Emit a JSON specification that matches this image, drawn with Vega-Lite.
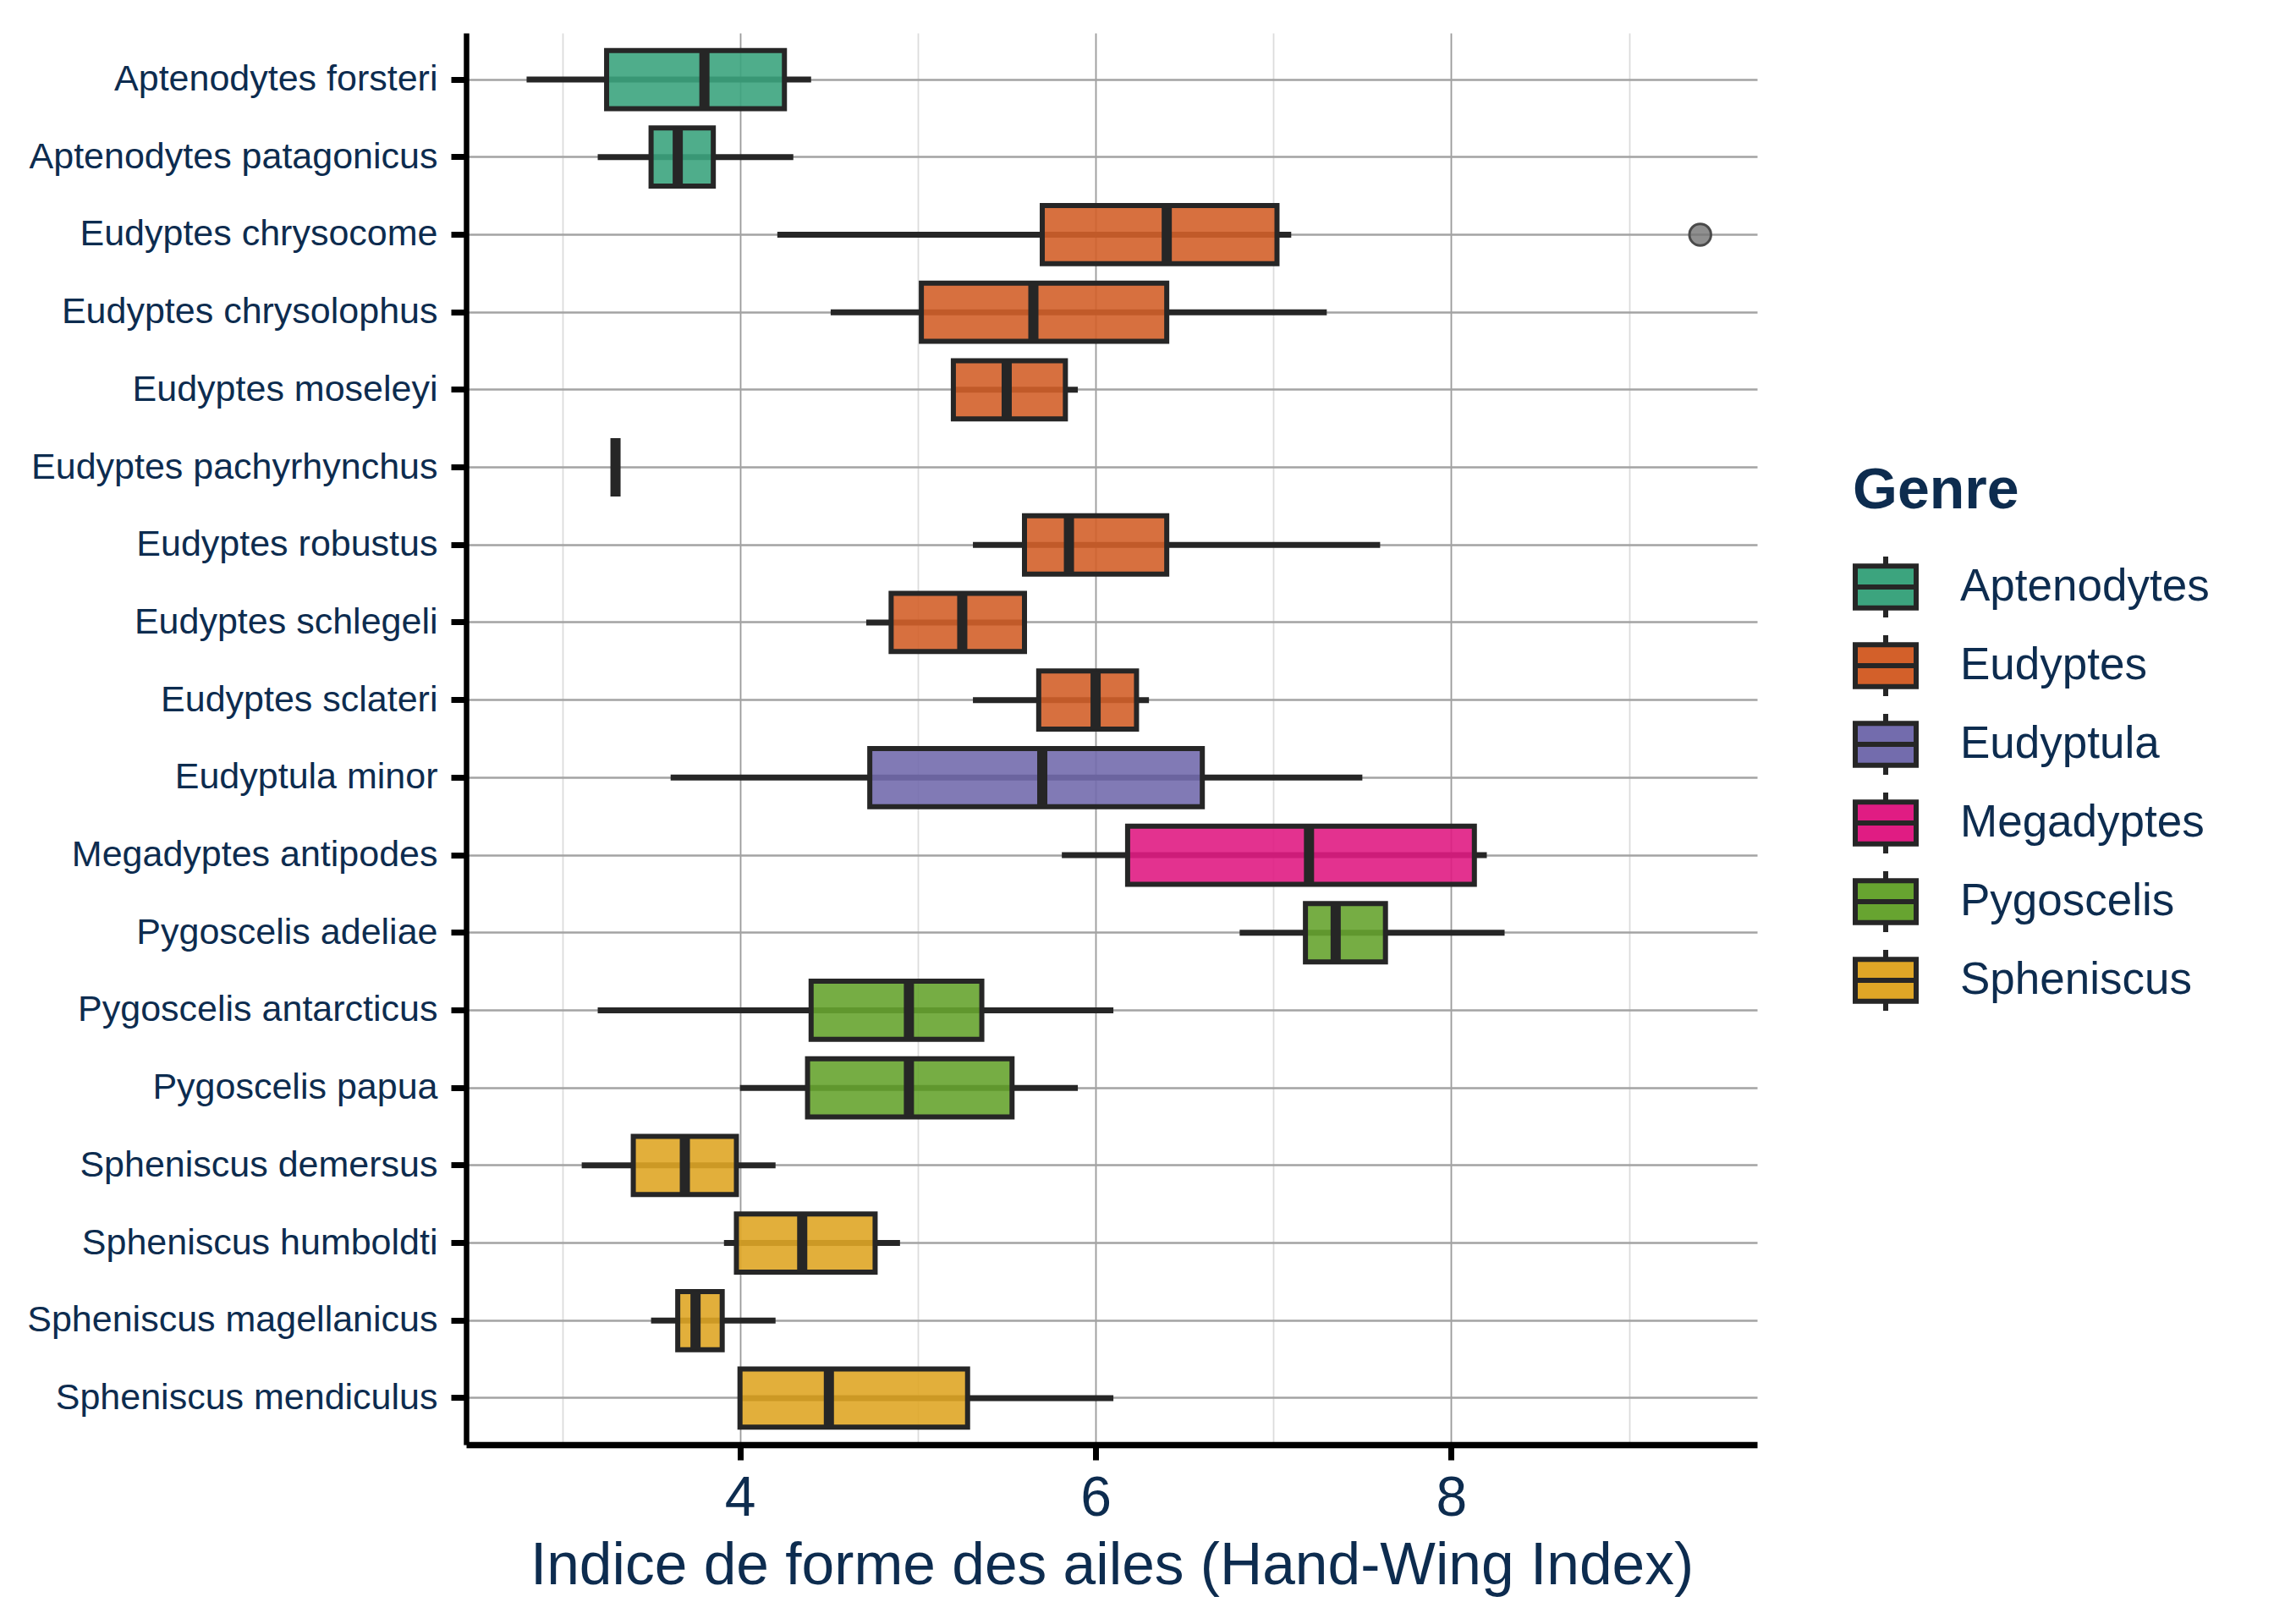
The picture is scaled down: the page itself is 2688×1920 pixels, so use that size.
{
  "$schema": "https://vega.github.io/schema/vega-lite/v6.json",
  "autosize": "none",
  "width": 1526,
  "height": 1669,
  "padding": {"left": 551, "right": 611, "top": 39, "bottom": 212},
  "background": "white",
  "data": {
    "values": [
      {"species": "Aptenodytes forsteri", "genus": "Aptenodytes", "lo": 2.80, "q1": 3.25, "median": 3.80, "q3": 4.25, "hi": 4.40},
      {"species": "Aptenodytes patagonicus", "genus": "Aptenodytes", "lo": 3.20, "q1": 3.50, "median": 3.65, "q3": 3.85, "hi": 4.30},
      {"species": "Eudyptes chrysocome", "genus": "Eudyptes", "lo": 4.21, "q1": 5.70, "median": 6.40, "q3": 7.02, "hi": 7.10, "outlier": 9.40},
      {"species": "Eudyptes chrysolophus", "genus": "Eudyptes", "lo": 4.51, "q1": 5.02, "median": 5.65, "q3": 6.40, "hi": 7.30},
      {"species": "Eudyptes moseleyi", "genus": "Eudyptes", "lo": 5.20, "q1": 5.20, "median": 5.50, "q3": 5.83, "hi": 5.90},
      {"species": "Eudyptes pachyrhynchus", "genus": "Eudyptes", "lo": 3.30, "q1": 3.30, "median": 3.30, "q3": 3.30, "hi": 3.30},
      {"species": "Eudyptes robustus", "genus": "Eudyptes", "lo": 5.31, "q1": 5.60, "median": 5.85, "q3": 6.40, "hi": 7.60},
      {"species": "Eudyptes schlegeli", "genus": "Eudyptes", "lo": 4.71, "q1": 4.85, "median": 5.25, "q3": 5.60, "hi": 5.60},
      {"species": "Eudyptes sclateri", "genus": "Eudyptes", "lo": 5.31, "q1": 5.68, "median": 6.00, "q3": 6.23, "hi": 6.30},
      {"species": "Eudyptula minor", "genus": "Eudyptula", "lo": 3.61, "q1": 4.73, "median": 5.70, "q3": 6.60, "hi": 7.50},
      {"species": "Megadyptes antipodes", "genus": "Megadyptes", "lo": 5.81, "q1": 6.18, "median": 7.20, "q3": 8.13, "hi": 8.20},
      {"species": "Pygoscelis adeliae", "genus": "Pygoscelis", "lo": 6.81, "q1": 7.18, "median": 7.35, "q3": 7.63, "hi": 8.30},
      {"species": "Pygoscelis antarcticus", "genus": "Pygoscelis", "lo": 3.20, "q1": 4.40, "median": 4.95, "q3": 5.36, "hi": 6.10},
      {"species": "Pygoscelis papua", "genus": "Pygoscelis", "lo": 4.00, "q1": 4.38, "median": 4.95, "q3": 5.53, "hi": 5.90},
      {"species": "Spheniscus demersus", "genus": "Spheniscus", "lo": 3.11, "q1": 3.40, "median": 3.69, "q3": 3.98, "hi": 4.20},
      {"species": "Spheniscus humboldti", "genus": "Spheniscus", "lo": 3.91, "q1": 3.98, "median": 4.35, "q3": 4.76, "hi": 4.90},
      {"species": "Spheniscus magellanicus", "genus": "Spheniscus", "lo": 3.50, "q1": 3.65, "median": 3.75, "q3": 3.90, "hi": 4.20},
      {"species": "Spheniscus mendiculus", "genus": "Spheniscus", "lo": 4.00, "q1": 4.00, "median": 4.50, "q3": 5.28, "hi": 6.10}
    ]
  },
  "encoding": {
    "y": {
      "field": "species",
      "type": "nominal",
      "sort": null,
      "title": null,
      "scale": {"paddingInner": 0, "paddingOuter": 0.1},
      "axis": {
        "labelFontSize": 43,
        "labelPadding": 16,
        "labelLimit": 0,
        "tickSize": 18,
        "tickWidth": 7,
        "tickColor": "black",
        "domainColor": "black",
        "domainWidth": 6.5,
        "grid": true,
        "gridColor": "#a3a3a3",
        "gridWidth": 2.5,
        "bandPosition": 0.5
      }
    }
  },
  "layer": [
    {
      "mark": {"type": "rule", "color": "#262626", "strokeWidth": 7},
      "encoding": {
        "x": {
          "field": "lo",
          "type": "quantitative",
          "title": "Indice de forme des ailes (Hand-Wing Index)",
          "scale": {"domain": [2.46, 9.72], "nice": false, "zero": false},
          "axis": {
            "values": [3, 4, 5, 6, 7, 8, 9],
            "format": "d",
            "labelExpr": "datum.value % 2 === 0 ? datum.label : ''",
            "labelFontSize": 66,
            "labelPadding": 13,
            "tickSize": 18,
            "tickWidth": 7,
            "tickColor": "black",
            "tickOpacity": {"condition": {"test": "datum.value % 2 === 0", "value": 1}, "value": 0},
            "domainColor": "black",
            "domainWidth": 7.5,
            "grid": true,
            "gridColor": {"condition": {"test": "datum.value % 2 === 0", "value": "#9a9a9a"}, "value": "#dcdcdc"},
            "gridWidth": 1.8,
            "titleFontSize": 69.5,
            "titleFontWeight": "normal",
            "titleBaseline": "alphabetic",
            "titleY": 164
          }
        },
        "x2": {"field": "hi"}
      }
    },
    {
      "mark": {"type": "bar", "height": {"band": 0.75}, "stroke": "#262626", "strokeWidth": 6, "fillOpacity": 0.9},
      "encoding": {
        "x": {"field": "q1", "type": "quantitative"},
        "x2": {"field": "q3"},
        "color": {
          "field": "genus",
          "type": "nominal",
          "title": "Genre",
          "scale": {
            "domain": ["Aptenodytes", "Eudyptes", "Eudyptula", "Megadyptes", "Pygoscelis", "Spheniscus"],
            "range": ["#3CA47E", "#D3602A", "#736CAD", "#E01C83", "#67A430", "#DFA626"]
          },
          "legend": {
            "orient": "none",
            "legendX": 1639,
            "legendY": 508,
            "titleFontSize": 68,
            "titleFontWeight": "bold",
            "titlePadding": 40,
            "titleLimit": 0,
            "labelFontSize": 53,
            "labelOffset": 49,
            "labelLimit": 0,
            "rowPadding": -3,
            "symbolSize": 5184,
            "symbolType": "M-1,-0.69H1V0.69H-1Z M0,-1V-0.69 M0,0.69V1 M-1,0H1",
            "symbolStrokeWidth": 6,
            "encode": {
              "symbols": {
                "update": {
                  "fillOpacity": {"value": 0.9},
                  "stroke": {"value": "#262626"},
                  "strokeWidth": {"value": 6}
                }
              }
            }
          }
        }
      }
    },
    {
      "mark": {"type": "tick", "color": "#262626", "thickness": 12, "size": 69, "opacity": 1},
      "encoding": {
        "x": {"field": "median", "type": "quantitative"}
      }
    },
    {
      "mark": {"type": "point", "filled": true, "size": 650, "fill": "#737373", "fillOpacity": 0.8, "stroke": "#4a4a4a", "strokeWidth": 3, "opacity": 1},
      "encoding": {
        "x": {"field": "outlier", "type": "quantitative"}
      }
    }
  ],
  "config": {
    "font": "Liberation Sans",
    "view": {"stroke": null},
    "axis": {
      "labelColor": "#0d2c4f",
      "titleColor": "#0d2c4f",
      "labelFont": "Liberation Sans",
      "titleFont": "Liberation Sans"
    },
    "legend": {
      "labelColor": "#0d2c4f",
      "titleColor": "#0d2c4f",
      "labelFont": "Liberation Sans",
      "titleFont": "Liberation Sans"
    }
  }
}
